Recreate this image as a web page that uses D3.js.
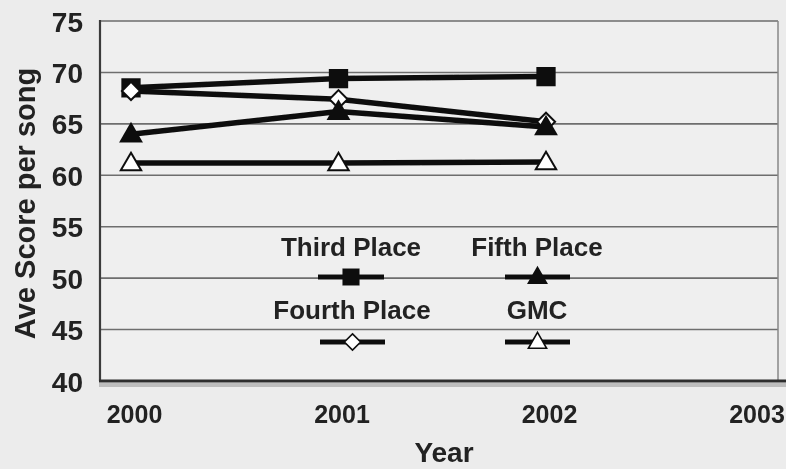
<!DOCTYPE html>
<html>
<head>
<meta charset="utf-8">
<script src="https://cdn.jsdelivr.net/npm/d3@7"></script>
<style>
  html, body { margin: 0; padding: 0; background: #ececec; }
  svg { display: block; }
  text { font-family: "Liberation Sans", Arial, sans-serif; font-weight: bold; fill: #222; }
</style>
</head>
<body>
<svg id="chart" width="786" height="469"></svg>
<script>
// ---- data ----
const years = [2000, 2001, 2002];
const thirdPlace = [68.5, 69.4, 69.6];
const fourthPlace = [68.2, 67.4, 65.2];
const fifthPlace = [64.0, 66.2, 64.7];
const gmc = [61.2, 61.2, 61.3];
const yTicks = [40, 45, 50, 55, 60, 65, 70, 75];
const xTicks = [2000, 2001, 2002, 2003];
const seriesNames = ["Third Place", "Fourth Place", "Fifth Place", "GMC"];

const series = [
  { name: "Third Place", values: thirdPlace, symbol: d3.symbolSquare, fill: "#111", size: 300 },
  { name: "Fourth Place", values: fourthPlace, symbol: d3.symbolDiamond2, fill: "#fff", size: 210 },
  { name: "Fifth Place", values: fifthPlace, symbol: d3.symbolTriangle, fill: "#111", size: 180 },
  { name: "GMC", values: gmc, symbol: d3.symbolTriangle, fill: "#fff", size: 180 }
];

const svg = d3.select("#chart");
const W = 786, H = 469;
const plot = { left: 100, right: 778, top: 21, bottom: 381 };

const x = d3.scaleLinear().domain([2000, 2003]).range([131, 753.5]);
const y = d3.scaleLinear().domain([40, 75]).range([plot.bottom, plot.top]);

// background
svg.append("rect").attr("width", W).attr("height", H).attr("fill", "#ececec");
svg.append("rect")
  .attr("x", plot.left).attr("y", plot.top)
  .attr("width", plot.right - plot.left).attr("height", plot.bottom - plot.top)
  .attr("fill", "#efefef");

const defs = svg.append("defs");
defs.append("filter").attr("id", "soft")
  .append("feGaussianBlur").attr("stdDeviation", 0.55);

const g = svg.append("g").attr("filter", "url(#soft)");

// gridlines
g.append("g").selectAll("line").data(yTicks.filter(d => d > 40)).join("line")
  .attr("x1", plot.left).attr("x2", plot.right)
  .attr("y1", d => y(d)).attr("y2", d => y(d))
  .attr("stroke", "#6e6e6e").attr("stroke-width", 1.6);

// right border
g.append("line").attr("x1", plot.right).attr("x2", plot.right)
  .attr("y1", plot.top).attr("y2", plot.bottom)
  .attr("stroke", "#888").attr("stroke-width", 1.5);

// axes lines
g.append("line").attr("x1", plot.left).attr("x2", plot.left)
  .attr("y1", plot.top - 1).attr("y2", plot.bottom)
  .attr("stroke", "#3a3a3a").attr("stroke-width", 2.2);
g.append("line").attr("x1", plot.left - 1).attr("x2", plot.right + 8)
  .attr("y1", plot.bottom + 4).attr("y2", plot.bottom + 4)
  .attr("stroke", "#bdbdbd").attr("stroke-width", 4);
g.append("line").attr("x1", plot.left - 1).attr("x2", plot.right + 8)
  .attr("y1", plot.bottom).attr("y2", plot.bottom)
  .attr("stroke", "#2e2e2e").attr("stroke-width", 3.2);

// y axis tick labels
const yAxis = d3.axisLeft(y).tickValues(yTicks).tickSize(0).tickPadding(0);
const yAxisG = g.append("g").attr("transform", `translate(${plot.left - 17},0)`).call(yAxis);
yAxisG.select(".domain").remove();
yAxisG.selectAll("text")
  .attr("font-size", 28).attr("font-weight", "bold")
  .attr("font-family", '"Liberation Sans", Arial, sans-serif')
  .attr("fill", "#222").attr("dy", "0.36em");

// x axis tick labels
const xAxis = d3.axisBottom(x).tickValues(xTicks).tickFormat(d3.format("d")).tickSize(0).tickPadding(0);
const xAxisG = g.append("g").attr("transform", `translate(3,${plot.bottom + 24})`).call(xAxis);
xAxisG.select(".domain").remove();
xAxisG.selectAll("text")
  .attr("font-size", 25).attr("font-weight", "bold")
  .attr("font-family", '"Liberation Sans", Arial, sans-serif')
  .attr("fill", "#222").attr("dy", "0.71em");

// axis titles
g.append("text")
  .attr("transform", `translate(35,${(60 + 347) / 2}) rotate(-90)`)
  .attr("text-anchor", "middle").attr("font-size", 29)
  .text("Ave Score per song");
g.append("text")
  .attr("x", 444).attr("y", 462)
  .attr("text-anchor", "middle").attr("font-size", 28)
  .text("Year");

// lines
const line = d3.line().x((d, i) => x(years[i])).y(d => y(d));
series.forEach(s => {
  g.append("path").datum(s.values)
    .attr("d", line).attr("fill", "none")
    .attr("stroke", "#111").attr("stroke-width", 5.5)
    .attr("stroke-linejoin", "round");
});
// markers
series.forEach(s => {
  g.append("g").selectAll("path").data(s.values).join("path")
    .attr("transform", (d, i) => `translate(${x(years[i])},${y(d) + (s.symbol === d3.symbolTriangle ? 1.5 : 0)})`)
    .attr("d", d3.symbol().type(s.symbol).size(s.size))
    .attr("fill", s.fill).attr("stroke", "#111").attr("stroke-width", 2);
});

// legend
const legendPos = [
  { tx: 351, ty: 256, lx1: 318, lx2: 384, ly: 277 },
  { tx: 352, ty: 319, lx1: 320, lx2: 385, ly: 342 },
  { tx: 537, ty: 256, lx1: 505, lx2: 570, ly: 277 },
  { tx: 537, ty: 319, lx1: 505, lx2: 570, ly: 342 }
];
series.forEach((s, i) => {
  const p = legendPos[i];
  const lg = g.append("g");
  lg.append("text").attr("x", p.tx).attr("y", p.ty)
    .attr("text-anchor", "middle").attr("font-size", 26).text(seriesNames[i]);
  lg.append("line").attr("x1", p.lx1).attr("x2", p.lx2)
    .attr("y1", p.ly).attr("y2", p.ly)
    .attr("stroke", "#111").attr("stroke-width", 5);
  lg.append("path")
    .attr("transform", `translate(${(p.lx1 + p.lx2) / 2},${p.ly + (s.symbol === d3.symbolTriangle ? 1 : 0)})`)
    .attr("d", d3.symbol().type(s.symbol).size(s.size * 0.8))
    .attr("fill", s.fill).attr("stroke", "#111").attr("stroke-width", 1.6);
});
</script>
</body>
</html>
